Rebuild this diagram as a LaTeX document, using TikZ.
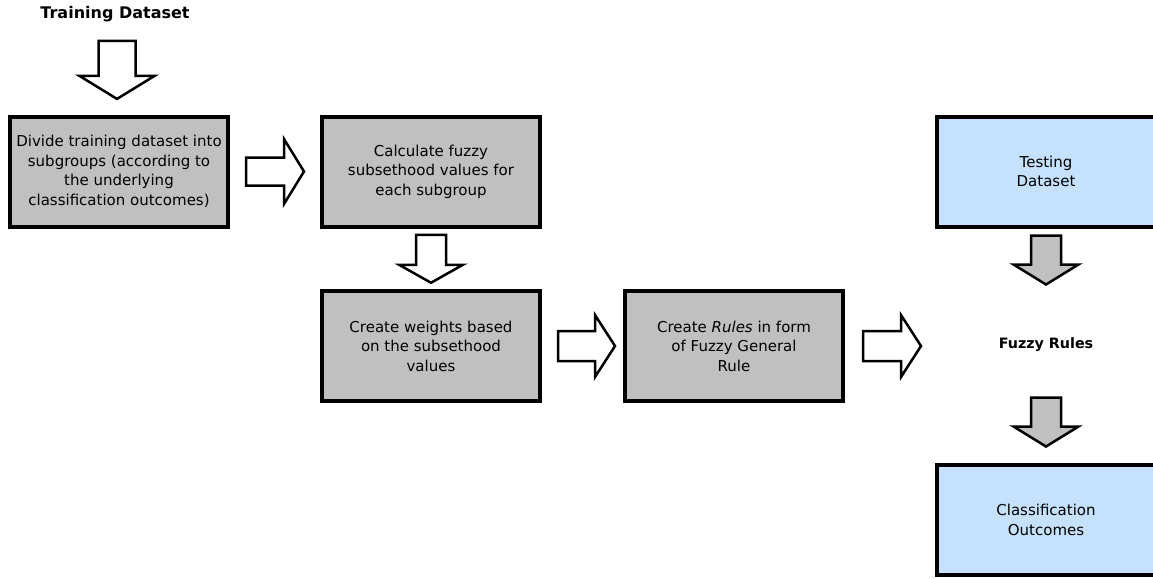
\documentclass[tikz,border=0pt]{standalone}
\usepackage{fontspec}
\setmainfont{DejaVu Sans}
\usetikzlibrary{calc}
\definecolor{boxgray}{RGB}{192,192,192}
\definecolor{boxblue}{RGB}{198,225,252}
\tikzset{
  pics/blockarrow/.style n args={4}{code={
    % length, full width, shaft width, head length
    \draw[pic actions] (-#1/2,-#3/2) -- (#1/2-#4,-#3/2) -- (#1/2-#4,-#2/2) -- (#1/2,0)
      -- (#1/2-#4,#2/2) -- (#1/2-#4,#3/2) -- (-#1/2,#3/2) -- cycle;
  }},
}
\begin{document}
\begin{tikzpicture}
  [x=1pt,y=-1pt,
   every node/.style={font=\fontsize{15}{19.5}\selectfont,align=center},
   stepbox/.style={draw,line width=4pt,minimum width=218pt,minimum height=110pt,inner sep=2pt},
   graybox/.style={stepbox,fill=boxgray},
   bluebox/.style={stepbox,fill=boxblue},
   whitearrow/.style={draw,fill=white,line width=2.5pt,line join=miter},
   grayarrow/.style={draw,fill=boxgray,line width=2.5pt,line join=miter}]
  \useasboundingbox (0,0) rectangle (1153,578);
  \node[font=\fontsize{16}{19.5}\selectfont\bfseries] (train) at (115,14) {Training Dataset};
  \node[graybox] (b1) at (119,171.5) {Divide training dataset into\\subgroups (according to\\the underlying\\classification outcomes)};
  \node[graybox] (b2) at (431,171.5) {Calculate fuzzy\\subsethood values for\\each subgroup};
  \node[graybox] (b3) at (431,346) {Create weights based\\on the subsethood\\values};
  \node[graybox] (b4) at (734,346) {Create \textit{Rules} in form\\of Fuzzy General\\Rule};
  \node[bluebox] (b5) at (1046,171.5) {Testing\\Dataset};
  \node[font=\fontsize{14.3}{19.5}\selectfont\bfseries] (rules) at (1046,345) {Fuzzy Rules};
  \node[bluebox] (b6) at (1046,520) {Classification\\Outcomes};

  \pic[whitearrow,rotate=-90] at ($(train.south)!.5!(b1.north)$) {blockarrow={58}{75}{37}{23}};
  \pic[whitearrow] at ($(b1.east)!.5!(b2.west)$) {blockarrow={58}{65}{28}{20}};
  \pic[whitearrow,rotate=-90] at ($(b2.south)!.5!(b3.north)$) {blockarrow={48}{64}{30}{18}};
  \pic[whitearrow] at ($(b3.east)!.5!(b4.west)+(4,0)$) {blockarrow={57}{62}{30}{20}};
  \pic[whitearrow] at ($(b4.east)+(47,0)$) {blockarrow={58}{62}{30}{20}};
  \pic[grayarrow,rotate=-90] at ($(b5.south)+(0,31.5)$) {blockarrow={49}{65}{30}{20}};
  \pic[grayarrow,rotate=-90] at ($(b6.north)+(0,-41)$) {blockarrow={49}{65}{30}{20}};
\end{tikzpicture}
\end{document}
